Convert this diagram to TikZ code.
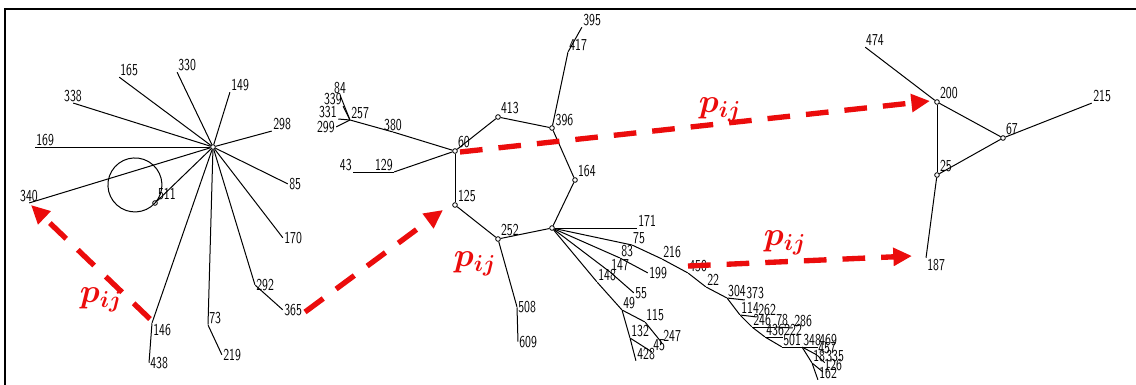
\documentclass[tikz,border=0pt]{standalone}
\usepackage{amsmath,amssymb,bm}
\usepackage{graphicx}
\usepackage{tikz}
\usetikzlibrary{arrows.meta, positioning, calc}
\definecolor{arrowred}{RGB}{235,12,12}
\newcommand{\nb}[1]{\scalebox{0.72}[1]{#1}}
\tikzset{vertex/.style={inner sep=0pt,minimum size=0pt},
    junction/.style={circle,draw,line width=0.6pt,inner sep=0pt,minimum size=3.5pt},
    edge/.style={draw,line width=0.75pt,-},
    num/.style={font=\sffamily\fontsize{12.5}{12.5}\selectfont,inner sep=0.6pt},
    route/.style={draw,arrowred,line width=4pt,dash pattern=on 17pt off 12pt,
        -{Triangle[length=14pt,width=13pt]}},
    weight/.style={text=arrowred,font=\fontsize{26}{26}\selectfont}}

\begin{document}
\begin{tikzpicture}[x=0.75pt,y=-0.75pt]

  \useasboundingbox (0,0) rectangle (1136,385);
  \draw[line width=2.2pt] (5,385) -- (5,9) -- (1136,9);

  % First we draw the junctions
  \node[junction] (hubL) at (213,147) {};
  \node[junction] (hubM) at (552,228) {};
  \foreach \pos/\name/\ang in {{(155,203)/511/45}, {(455,151)/60/45}, {(498,117)/413/45},
                               {(552,128)/396/20}, {(575,180)/164/45}, {(455,205)/125/45},
                               {(498,239)/252/45}, {(937,102)/200/45}, {(1003,138)/67/45},
                               {(937,175)/25/45}}
    \node[junction,label={[num]\ang:\nb{\name}}] (n\name) at \pos {};

  % Then the other vertices
  \foreach \pos/\name/\ang in {{(119,77)/165/45}, {(177,72)/330/45}, {(230,92)/149/45},
                               {(73,103)/338/90}, {(272,131)/298/45}, {(35,147)/169/45},
                               {(288,184)/85/0}, {(29,203)/340/90}, {(283,238)/170/0},
                               {(255,285)/292/0}, {(283,310)/365/0}, {(208,325)/73/15},
                               {(222,355)/219/0}, {(152,323)/146/-30}, {(149,363)/438/0},
                               {(350,120)/257/45}, {(340,95)/84/90}, {(343,106)/339/150},
                               {(338,119)/331/150}, {(336,127)/299/180}, {(393,132)/380/90},
                               {(353,172)/43/135}, {(394,172)/129/160}, {(517,307)/508/0},
                               {(518,342)/609/0}, {(568,52)/417/10}, {(582,27)/395/45},
                               {(637,228)/171/20}, {(632,245)/75/60}, {(662,259)/216/45},
                               {(688,273)/450/45}, {(706,287)/22/45}, {(727,298)/304/60},
                               {(745,300)/373/45}, {(740,315)/114/45}, {(757,317)/262/45},
                               {(752,327)/246/45}, {(775,327)/78/45}, {(793,328)/286/45},
                               {(765,337)/436/45}, {(783,337)/222/45}, {(782,347)/501/45},
                               {(802,347)/348/45}, {(818,347)/469/45}, {(817,355)/457/45},
                               {(812,363)/18/45}, {(825,363)/335/45}, {(823,372)/126/45},
                               {(818,380)/162/45}, {(620,258)/83/45}, {(648,273)/199/0},
                               {(610,272)/147/45}, {(597,282)/148/45}, {(634,293)/55/0},
                               {(622,310)/49/45}, {(645,322)/115/20}, {(662,343)/247/45},
                               {(630,338)/132/45}, {(652,352)/45/45}, {(636,361)/428/10},
                               {(865,47)/474/60}, {(1092,103)/215/45}, {(926,258)/187/-10}}
    \node[vertex,label={[num]\ang:\nb{\name}}] (n\name) at \pos {};

  % Connect vertices with edges
  \foreach \source/\dest in {hubL/n165, hubL/n330, hubL/n149, hubL/n338, hubL/n298,
                             hubL/n169, hubL/n85, hubL/n340, hubL/n511, hubL/n170,
                             hubL/n292, hubL/n146, hubL/n73, n292/n365, n73/n219, n146/n438,
                             n257/n84, n257/n339, n257/n331, n257/n299, n257/n380, n380/n60,
                             n43/n129, n129/n60, n60/n413, n413/n396, n396/n164, n164/hubM,
                             n60/n125, n125/n252, n252/hubM, n396/n417, n417/n395,
                             n252/n508, n508/n609, hubM/n171, hubM/n75, n75/n216, n216/n450,
                             n450/n22, n22/n304, n304/n373, n304/n114, n114/n262, n114/n246,
                             n246/n78, n78/n286, n246/n436, n436/n222, n436/n501, n501/n348,
                             n348/n469, n348/n457, n457/n335, n348/n18, n18/n126, n18/n162,
                             hubM/n83, n83/n199, hubM/n147, n147/n55, hubM/n148, n148/n49,
                             n49/n115, n115/n247, n49/n132, n132/n45, n132/n428,
                             n474/n200, n200/n67, n200/n25, n25/n67, n67/n215, n25/n187}
    \path[edge] (\source) -- (\dest);

  % the loop at 511
  \draw[edge] (n511.center) arc[start angle=42,end angle=402,radius=27];

  % red paths
  \coordinate (r1s) at (150,319);
  \coordinate (r1e) at (31,205);
  \coordinate (r2s) at (305,312);
  \coordinate (r2e) at (443,210);
  \coordinate (r3s) at (460,152);
  \coordinate (r3e) at (930,101);
  \coordinate (r4s) at (688,266);
  \coordinate (r4e) at (912,256);
  \path[route] (r1s) -- (r1e);
  \path[route] (r2s) -- (r2e);
  \path[route] (r3s) -- (r3e);
  \path[route] (r4s) -- (r4e);

  \node[weight] (w1) at (101,300) {$\bm{p_{ij}}$};
  \node[weight] (w2) at (475,264) {$\bm{p_{ij}}$};
  \node[weight] (w3) at (720,110) {$\bm{p_{ij}}$};
  \node[weight] (w4) at (785,243) {$\bm{p_{ij}}$};

\end{tikzpicture}
\end{document}
